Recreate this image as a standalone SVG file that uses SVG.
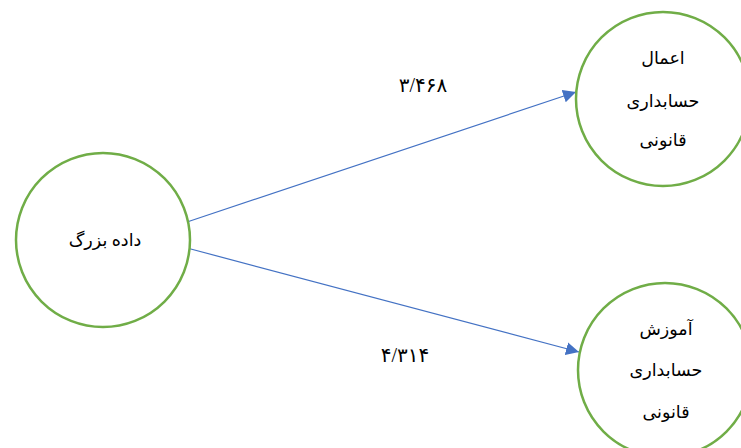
<svg xmlns="http://www.w3.org/2000/svg" width="741" height="448" viewBox="0 0 741 448">
<style>
.node{fill:#fff;stroke:#70AD47;stroke-width:2.5}
.lbl{font-family:"Liberation Serif","DejaVu Sans",serif;font-size:17.5px;fill:#000;text-anchor:middle;dominant-baseline:central}
.num{font-family:"Liberation Serif","DejaVu Sans",serif;font-size:20px;fill:#000;text-anchor:middle;dominant-baseline:central}
.edge{stroke:#4472C4;stroke-width:1.2;fill:none}
</style>
<defs>
<marker id="arr" viewBox="0 0 10 10" refX="10" refY="5" markerWidth="13" markerHeight="13" markerUnits="userSpaceOnUse" orient="auto">
<path d="M0,0 L10,5 L0,10 z" fill="#4472C4"/>
</marker>
</defs>
<rect width="741" height="448" fill="#fff"/>
<g id="connectors">
<line class="edge" x1="187" y1="222" x2="576" y2="92" marker-end="url(#arr)"/>
<line class="edge" x1="187" y1="248" x2="579" y2="352" marker-end="url(#arr)"/>
<text class="num" x="423" y="85" direction="rtl">۳/۴۶۸</text>
<text class="num" x="405" y="355" direction="rtl">۴/۳۱۴</text>
</g>
<g id="node-big-data">
<circle class="node" cx="103" cy="240" r="87"/>
<text class="lbl" x="105" y="240" direction="rtl">داده بزرگ</text>
</g>
<g id="node-legal-audit-practice">
<circle class="node" cx="663" cy="99" r="87"/>
<text class="lbl" x="663" y="58" direction="rtl">اعمال</text>
<text class="lbl" x="663" y="101" direction="rtl">حسابداری</text>
<text class="lbl" x="663" y="140" direction="rtl">قانونی</text>
</g>
<g id="node-legal-audit-education">
<circle class="node" cx="665" cy="370" r="87"/>
<text class="lbl" x="666" y="329" direction="rtl">آموزش</text>
<text class="lbl" x="666" y="370" direction="rtl">حسابداری</text>
<text class="lbl" x="666" y="412" direction="rtl">قانونی</text>
</g>
</svg>
